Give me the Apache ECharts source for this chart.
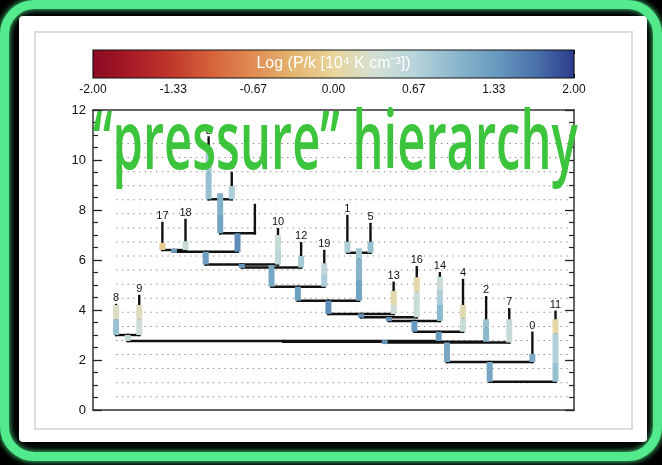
<!DOCTYPE html>
<html>
<head>
<meta charset="utf-8">
<script src="https://cdn.jsdelivr.net/npm/echarts@6/dist/echarts.min.js"></script>
<style>
  html, body { margin: 0; padding: 0; background: #000; }
  #chart { width: 662px; height: 465px; }
</style>
</head>
<body>
<div id="chart"></div>
<script>
// Leaf ids in the order they sit along the x axis (left to right)
const leafIds = [8, 9, 17, 18, 3, 6, 15, 10, 12, 19, 1, 5, 13, 16, 14, 4, 2, 7, 0, 11];
// Text drawn above each leaf (same order; the leaf at position 6 carries none)
const leafLabels = ['8', '9', '17', '18', '3', '6', '', '10', '12', '19', '1', '5', '13', '16', '14', '4', '2', '7', '0', '11'];
// Peak level of each leaf, same order as leafIds
const leafPeaks = [4.2, 4.56, 7.48, 7.6, 10.9, 9.48, 8.2, 7.23, 6.67, 6.36, 7.76, 7.44, 5.09, 5.71, 5.47, 5.2, 4.51, 4.03, 3.09, 3.93];
// Branch merges: [branch name, child A, child B, merge level]; numbers are leaf ids
const merges = [
  ['n1', 3, 6, 8.43],
  ['n2', 'n1', 15, 7.07],
  ['n3', 17, 18, 6.40],
  ['n4', 'n3', 'n2', 6.33],
  ['n5', 'n4', 10, 5.82],
  ['n6', 'n5', 12, 5.70],
  ['n7', 'n6', 19, 4.93],
  ['n8', 1, 5, 6.29],
  ['n9', 'n7', 'n8', 4.37],
  ['n10', 'n9', 13, 3.84],
  ['n11', 'n10', 16, 3.71],
  ['n12', 'n11', 14, 3.56],
  ['n13', 'n12', 4, 3.13],
  ['n14', 8, 9, 3.00],
  ['n15', 'n14', 'n13', 2.76],
  ['n16', 'n15', 2, 2.73],
  ['n17', 'n16', 7, 2.70],
  ['n18', 'n17', 0, 1.92],
  ['n19', 'n18', 11, 1.13]
];
// Pressure along each structure: [structure, from level, to level, log P/k]
const pressureSegments = [
  [8, 3.0, 3.63, 0.9], [8, 3.63, 4.2, 0.25],
  [9, 3.0, 3.63, 0.4], [9, 3.63, 4.2, 0.2],
  [17, 6.40, 6.69, -0.08],
  [18, 6.40, 6.75, 0.5],
  [3, 8.43, 9.5, 0.9], [3, 9.5, 10.4, 0.8],
  [6, 8.43, 8.96, 0.75],
  [10, 5.82, 6.4, 0.6], [10, 6.4, 7.0, 0.5],
  [12, 5.70, 6.16, 0.8],
  [19, 4.93, 5.4, 0.75], [19, 5.4, 5.87, 0.6],
  [1, 6.29, 6.73, 0.75],
  [5, 6.29, 6.73, 0.9],
  [13, 3.84, 4.2, 0.45], [13, 4.2, 4.76, 0.1],
  [16, 3.71, 4.73, 0.45], [16, 4.73, 5.31, 0.1],
  [14, 3.56, 4.2, 1.0], [14, 4.2, 4.8, 0.75], [14, 4.8, 5.33, 0.45],
  [4, 3.13, 3.67, 0.45], [4, 3.67, 4.2, 0.15],
  [2, 2.73, 3.3, 1.0], [2, 3.3, 3.63, 0.9],
  [7, 2.70, 3.63, 0.5],
  [0, 1.92, 2.24, 1.15],
  [11, 1.13, 1.88, 0.9], [11, 1.88, 3.07, 0.7], [11, 3.07, 3.63, 0.05],
  ['n1', 7.07, 7.8, 1.25], ['n1', 7.8, 8.67, 1.1],
  ['n2', 6.33, 7.07, 1.45],
  ['n3', 6.33, 6.40, 1.3],
  ['n4', 5.82, 6.33, 1.3],
  ['n5', 5.70, 5.82, 1.4],
  ['n6', 4.93, 5.8, 1.2],
  ['n7', 4.37, 4.93, 1.3],
  ['n8', 4.37, 5.2, 1.25], ['n8', 5.2, 6.07, 1.05], ['n8', 6.07, 6.47, 0.8],
  ['n9', 3.84, 4.37, 1.45],
  ['n10', 3.71, 3.84, 1.4],
  ['n11', 3.56, 3.71, 1.4],
  ['n12', 3.13, 3.56, 1.35],
  ['n13', 2.76, 3.13, 1.35],
  ['n14', 2.76, 3.0, 0.55],
  ['n16', 2.70, 2.73, 1.4],
  ['n17', 1.92, 2.70, 1.2],
  ['n18', 1.13, 1.92, 1.2]
];
// Contour levels drawn as dotted guides
const contourLevels = [0.53, 1.09, 1.66, 2.22, 2.78, 3.34, 3.91, 4.47, 5.03, 5.6, 6.16, 6.72, 7.28, 7.85, 8.41, 8.97, 9.53, 10.1, 10.66];
// Colour scale for log P/k
const colorRange = [-2, 2];
const colorStops = ['#8c0a22', '#a81c26', '#c0392b', '#d8643c', '#e08c54', '#e4b470', '#e8d49a',
                    '#d4e0d4', '#b8d4dc', '#8cb8cc', '#6a9cc0', '#4a74ac', '#2c3a8c'];

// ---- tree layout: x of a branch is the mean of its children ----
const xOf = {}, topOf = {}, parentLevel = {};
leafIds.forEach((id, i) => { xOf[id] = i; topOf[id] = leafPeaks[i]; });
merges.forEach(([name, a, b, lvl]) => {
  xOf[name] = (xOf[a] + xOf[b]) / 2;
  topOf[name] = lvl;
  parentLevel[a] = lvl;
  parentLevel[b] = lvl;
});

const linkData = [];
Object.keys(parentLevel).forEach(k => {
  const key = isNaN(+k) ? k : +k;
  linkData.push([xOf[key], parentLevel[k], xOf[key], topOf[key]]);
});
merges.forEach(([name, a, b, lvl]) => linkData.push([xOf[a], lvl, xOf[b], lvl]));

const segmentData = pressureSegments.map(([s, y0, y1, v]) => [xOf[s], y0, y1, v]);
const labelData = leafIds.map((id, i) => [i, leafPeaks[i], leafLabels[i]]);
const levelData = contourLevels.map(v => [v]);
const levelSpan = [0, 19.65];

const FONT = '"Liberation Sans", Arial, Helvetica, sans-serif';
const chart = echarts.init(document.getElementById('chart'), null, { renderer: 'canvas' });

const mainX = {
  type: 'value', min: -1, max: 19.8, gridIndex: 0,
  axisLine: { show: true, onZero: false, lineStyle: { color: '#333', width: 1.5 } },
  axisTick: { show: false }, axisLabel: { show: false }, splitLine: { show: false }
};
const mainY = {
  type: 'value', min: 0, max: 12, interval: 2, gridIndex: 0,
  axisLine: { show: true, onZero: false, lineStyle: { color: '#333', width: 1.5 } },
  axisTick: { show: true, inside: true, length: 9, lineStyle: { color: '#222', width: 1.3 } },
  minorTick: { show: true, splitNumber: 4, length: 5, lineStyle: { color: '#222', width: 1.2 } },
  axisLabel: { fontFamily: FONT, fontSize: 13, color: '#111', margin: 7 },
  splitLine: { show: false }
};

chart.setOption({
  backgroundColor: '#000',
  animation: false,
  grid: [
    { left: 93, right: 88, top: 110, bottom: 55 },
    { left: 93, right: 88, top: 50, height: 28 }
  ],
  xAxis: [
    mainX,
    Object.assign({}, mainX, { position: 'top' }),
    {
      type: 'value', gridIndex: 1, min: colorRange[0], max: colorRange[1], interval: 1 / 3,
      axisLine: { show: false },
      axisTick: { show: true, inside: true, length: 4, lineStyle: { color: '#111', width: 1 } },
      axisLabel: {
        fontFamily: FONT, fontSize: 12, color: '#111', margin: 6,
        showMinLabel: true, showMaxLabel: true,
        formatter: v => {
          const k = Math.round((v - colorRange[0]) * 3);
          if (k % 2) return '';
          return (Math.abs(v) < 1e-9 ? 0 : v).toFixed(2);
        }
      },
      splitLine: { show: false }
    },
    {
      type: 'value', gridIndex: 1, position: 'top', min: colorRange[0], max: colorRange[1], interval: 1 / 3,
      axisLine: { show: false },
      axisTick: { show: true, inside: true, length: 4, lineStyle: { color: '#111', width: 1 } },
      axisLabel: { show: false }, splitLine: { show: false }
    }
  ],
  yAxis: [
    mainY,
    Object.assign({}, mainY, { position: 'right', axisLabel: { show: false } }),
    { type: 'value', gridIndex: 1, min: 0, max: 1, show: false }
  ],
  visualMap: {
    show: false, type: 'continuous', min: colorRange[0], max: colorRange[1],
    dimension: 3, seriesIndex: 2, inRange: { color: colorStops }
  },
  graphic: {
    elements: [
      { type: 'rect', z: 0, shape: { x: 4.5, y: 4.5, width: 653, height: 452, r: 30 },
        style: { fill: '#000', stroke: '#52ea8c', lineWidth: 9, shadowBlur: 6, shadowColor: '#52ea8c' } },
      { type: 'rect', z: 0, shape: { x: 19, y: 16, width: 628, height: 426, r: 4 },
        style: { fill: '#fff' } },
      { type: 'rect', z: 0, shape: { x: 35, y: 32, width: 597, height: 397 },
        style: { fill: 'none', stroke: '#dcdcdc', lineWidth: 2 } },
      { type: 'text', z: 50, x: 333.5, y: 64,
        style: { text: 'Log (P/k [10\u2074 K cm\u207B\u00B3])', fill: '#fff', font: '16px ' + FONT,
                 align: 'center', verticalAlign: 'middle' } },
      { type: 'text', z: 100, x: 93, y: 146, scaleX: 0.597,
        style: { text: '\u201Cpressure\u201D hierarchy', fill: '#3cc43c',
                 font: '600 82px "Open Sans", sans-serif', align: 'left', verticalAlign: 'middle' } }
    ]
  },
  series: [
    // dotted contour guides
    {
      type: 'custom', xAxisIndex: 0, yAxisIndex: 0, z: 1, silent: true,
      data: levelData,
      renderItem: (params, api) => {
        const a = api.coord([levelSpan[0], api.value(0)]);
        const b = api.coord([levelSpan[1], api.value(0)]);
        return { type: 'line', shape: { x1: a[0], y1: a[1], x2: b[0], y2: b[1] },
                 style: { stroke: '#858585', lineWidth: 1.2, lineDash: [1.3, 4.4] } };
      }
    },
    // dendrogram skeleton
    {
      type: 'custom', xAxisIndex: 0, yAxisIndex: 0, z: 3, silent: true,
      data: linkData,
      renderItem: (params, api) => {
        const a = api.coord([api.value(0), api.value(1)]);
        const b = api.coord([api.value(2), api.value(3)]);
        return { type: 'line', shape: { x1: a[0], y1: a[1], x2: b[0], y2: b[1] },
                 style: { stroke: '#111', lineWidth: 2.4, lineCap: 'square' } };
      }
    },
    // pressure-coloured columns
    {
      type: 'custom', xAxisIndex: 0, yAxisIndex: 0, z: 4, silent: true,
      data: segmentData,
      renderItem: (params, api) => {
        const p0 = api.coord([api.value(0), api.value(1)]);
        const p1 = api.coord([api.value(0), api.value(2)]);
        let top = Math.min(p0[1], p1[1]);
        let h = Math.abs(p1[1] - p0[1]);
        if (h < 4) { const c = (p0[1] + p1[1]) / 2; top = c - 2; h = 4; }
        return { type: 'rect', shape: { x: p0[0] - 3, y: top, width: 6, height: h },
                 style: { fill: api.visual('color') } };
      }
    },
    // leaf ids
    {
      type: 'custom', xAxisIndex: 0, yAxisIndex: 0, z: 5, silent: true,
      data: labelData,
      renderItem: (params, api) => {
        const p = api.coord([api.value(0), api.value(1)]);
        return { type: 'text', x: p[0], y: p[1] - 7,
                 style: { text: labelData[params.dataIndex][2], fill: '#111', font: '11px ' + FONT,
                          align: 'center', verticalAlign: 'middle' } };
      }
    },
    // colour bar
    {
      type: 'custom', xAxisIndex: 2, yAxisIndex: 2, z: 3, silent: true,
      data: [colorRange],
      renderItem: (params, api) => {
        const a = api.coord([api.value(0), 0]);
        const b = api.coord([api.value(1), 1]);
        const stops = colorStops.map((c, i) => ({ offset: i / (colorStops.length - 1), color: c }));
        return { type: 'rect',
                 shape: { x: a[0], y: b[1], width: b[0] - a[0], height: a[1] - b[1] },
                 style: { fill: new echarts.graphic.LinearGradient(0, 0, 1, 0, stops),
                          stroke: '#111', lineWidth: 1.2 } };
      }
    }
  ]
});
</script>
</body>
</html>
